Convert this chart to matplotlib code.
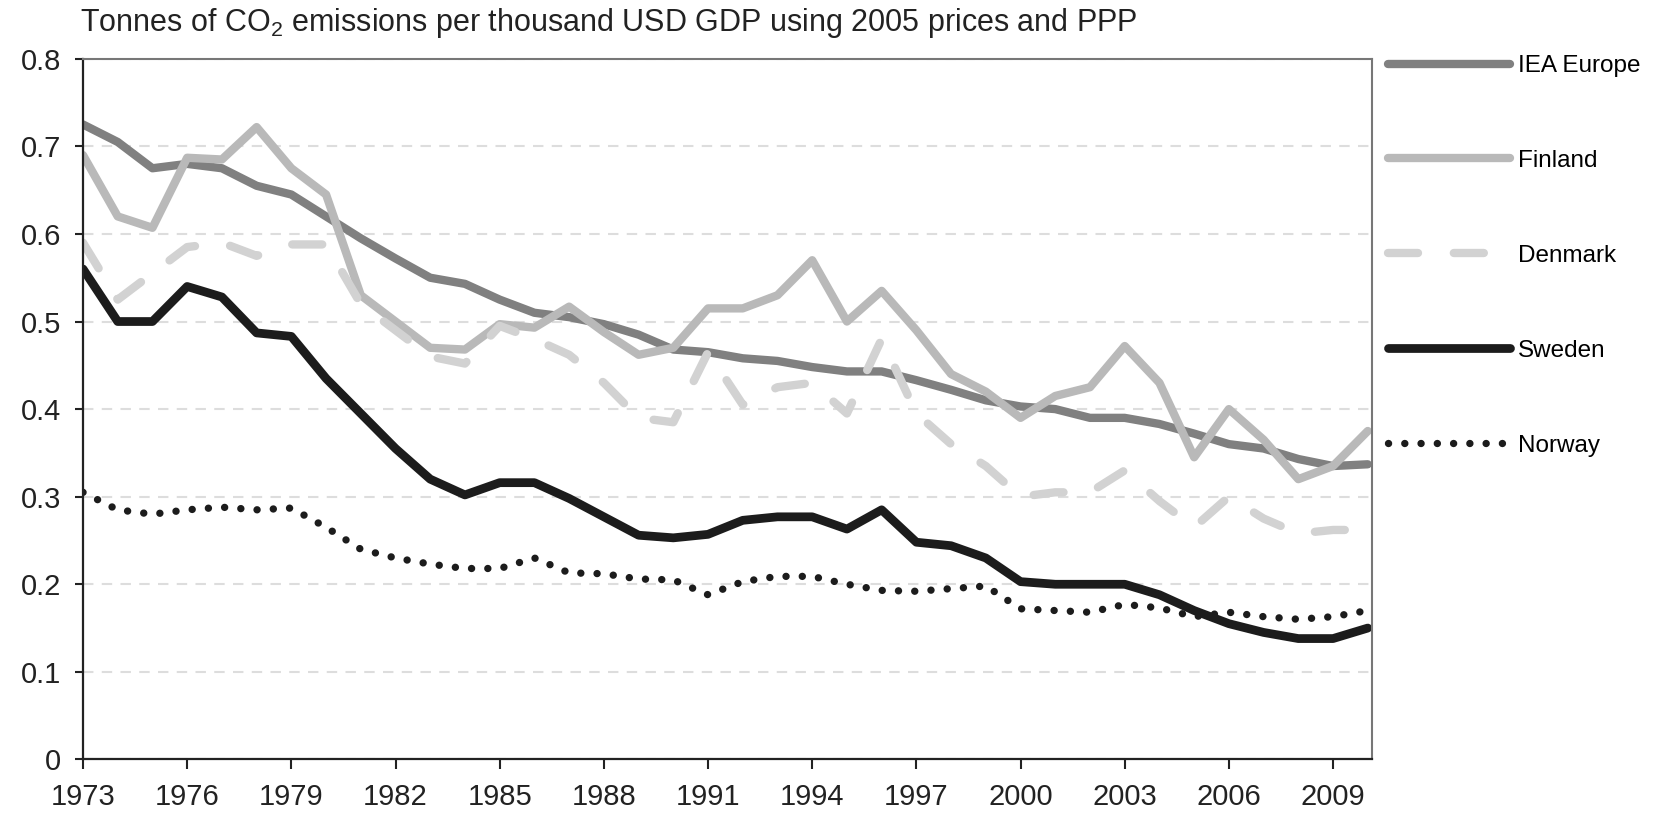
import matplotlib
matplotlib.use('Agg')
import matplotlib.pyplot as plt
import numpy as np

years = list(range(1973, 2011))

iea_europe = [0.725, 0.705, 0.675, 0.680, 0.675, 0.655, 0.645, 0.620, 0.595, 0.572,
              0.550, 0.543, 0.525, 0.510, 0.505, 0.497, 0.485, 0.468, 0.465, 0.458,
              0.455, 0.448, 0.443, 0.443, 0.433, 0.422, 0.410, 0.403, 0.400, 0.390,
              0.390, 0.383, 0.372, 0.360, 0.355, 0.343, 0.335, 0.337]
finland = [0.690, 0.620, 0.607, 0.687, 0.685, 0.722, 0.675, 0.645, 0.530, 0.500,
           0.470, 0.468, 0.497, 0.493, 0.517, 0.488, 0.462, 0.470, 0.515, 0.515,
           0.530, 0.570, 0.500, 0.535, 0.490, 0.440, 0.420, 0.390, 0.415, 0.425,
           0.472, 0.430, 0.345, 0.400, 0.365, 0.320, 0.335, 0.375]
denmark = [0.590, 0.525, 0.555, 0.585, 0.590, 0.575, 0.588, 0.588, 0.520, 0.490,
           0.460, 0.452, 0.495, 0.480, 0.462, 0.430, 0.390, 0.385, 0.465, 0.405,
           0.425, 0.430, 0.395, 0.480, 0.395, 0.360, 0.335, 0.300, 0.305, 0.305,
           0.330, 0.295, 0.265, 0.300, 0.275, 0.258, 0.262, 0.262]
sweden = [0.560, 0.500, 0.500, 0.540, 0.528, 0.487, 0.483, 0.435, 0.395, 0.355,
          0.320, 0.302, 0.316, 0.316, 0.298, 0.277, 0.256, 0.253, 0.257, 0.273,
          0.277, 0.277, 0.263, 0.285, 0.248, 0.244, 0.230, 0.203, 0.200, 0.200,
          0.200, 0.188, 0.170, 0.155, 0.145, 0.138, 0.138, 0.150]
norway = [0.305, 0.285, 0.280, 0.285, 0.288, 0.285, 0.287, 0.265, 0.240, 0.230,
          0.223, 0.218, 0.218, 0.230, 0.213, 0.212, 0.206, 0.205, 0.188, 0.203,
          0.209, 0.209, 0.200, 0.193, 0.192, 0.195, 0.198, 0.172, 0.170, 0.168,
          0.177, 0.173, 0.163, 0.168, 0.163, 0.160, 0.163, 0.170]

x_ticks = list(range(1973, 2011, 3))
y_ticks = [0, 0.1, 0.2, 0.3, 0.4, 0.5, 0.6, 0.7, 0.8]
y_labels = ['0', '0.1', '0.2', '0.3', '0.4', '0.5', '0.6', '0.7', '0.8']

plt.rcParams['font.family'] = ['Liberation Sans', 'DejaVu Sans']
plt.rcParams['mathtext.fontset'] = 'custom'
plt.rcParams['mathtext.rm'] = 'Liberation Sans'

fig = plt.figure(figsize=(16.77, 8.13), dpi=100)
ax = fig.add_axes([83 / 1677, 0.0659, 0.7686, 0.8618])

ax.plot(years, iea_europe, color='#808080', lw=6, solid_capstyle='round',
        solid_joinstyle='round', label='IEA Europe')
ax.plot(years, finland, color='#b9b9b9', lw=6, solid_capstyle='round',
        solid_joinstyle='round', label='Finland')
ax.plot(years, denmark, color='#d2d2d2', lw=6, dashes=(3.6, 4.3),
        dash_capstyle='round', label='Denmark')
ax.plot(years, sweden, color='#1c1c1c', lw=6.3, solid_capstyle='round',
        solid_joinstyle='round', label='Sweden')
ax.plot(years, norway, color='#1c1c1c', lw=5.3, linestyle=(0, (0.01, 2.2)),
        dash_capstyle='round', label='Norway')

ax.set_xlim(1973, 2010.12)
ax.set_ylim(0, 0.8)
ax.set_xticks(x_ticks)
ax.set_yticks(y_ticks)
ax.set_yticklabels(y_labels)
ax.tick_params(axis='both', labelsize=21, colors='#222222', width=1.5,
               length=6, direction='out')
ax.tick_params(axis='x', pad=10, length=7)
ax.tick_params(axis='y', pad=10)
ax.grid(axis='y', color='#dddddd', linestyle=(0, (5, 4)), lw=1.5)
ax.set_axisbelow(True)

for side in ['left', 'bottom']:
    ax.spines[side].set_color('#222222')
    ax.spines[side].set_linewidth(1.6)
for side in ['top', 'right']:
    ax.spines[side].set_color('#777777')
    ax.spines[side].set_linewidth(1.5)

fig.text(80 / 1677, 0.972, 'Tonnes of CO$_\\mathrm{2}$ emissions per thousand USD GDP using 2005 prices and PPP',
         fontsize=22, color='#222222', va='center', ha='left')

ax.legend(loc='upper left', bbox_to_anchor=(1388 / 1677, 1 - 55 / 813),
          bbox_transform=fig.transFigure, frameon=False, borderpad=0,
          borderaxespad=0, handlelength=5.0, handletextpad=0.35,
          labelspacing=3.0, prop={'family': 'Liberation Sans', 'size': 17.5})

fig.savefig('out.png', dpi=100)
